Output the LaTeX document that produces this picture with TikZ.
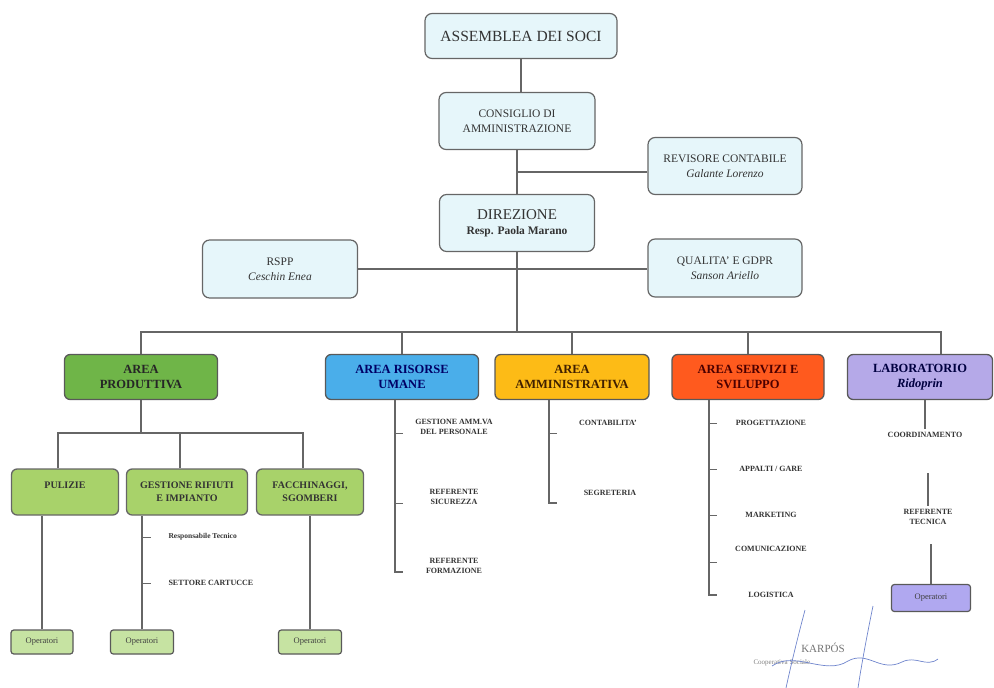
\documentclass[tikz,border=0pt]{standalone}
\usepackage{fontspec}
\setmainfont{Liberation Serif}
\usetikzlibrary{calc}

\definecolor{boxblue}{HTML}{E6F6FA}
\definecolor{prodgreen}{HTML}{6FB548}
\definecolor{subgreen}{HTML}{A8D26A}
\definecolor{opgreen}{HTML}{C6E3A2}
\definecolor{rublue}{HTML}{4AAEEA}
\definecolor{ammgold}{HTML}{FDBB16}
\definecolor{servred}{HTML}{FF5A1E}
\definecolor{lablav}{HTML}{B5A9E8}
\definecolor{oplav}{HTML}{B0A8F0}
\definecolor{linegray}{HTML}{666666}
\definecolor{siblue}{HTML}{6E84CC}

\tikzset{
  topbox/.style={draw=linegray, rectangle, rounded corners=2.5mm, fill=boxblue, line width=1.2pt,
    align=center, text=black!80, font=\fontsize{11.5}{15}\selectfont},
  areabox/.style={draw=black!65, rectangle, rounded corners=2mm, line width=1.3pt, align=center,
    minimum height=45, font=\bfseries\fontsize{12.5}{15}\selectfont},
  subbox/.style={draw=black!60, rectangle, rounded corners=2mm, fill=subgreen, line width=1.3pt,
    align=center, minimum height=46, text=black!80, font=\bfseries\fontsize{10}{13}\selectfont},
  opbox/.style={draw=black!65, rectangle, rounded corners=1mm, line width=1.2pt, minimum height=24,
    text=black!75, font=\fontsize{8.5}{9}\selectfont},
  item/.style={align=center, text=black!80, font=\bfseries\fontsize{8}{10}\selectfont},
  link/.style={draw=linegray, line width=1.3pt},
  sig/.style={draw=siblue, line width=0.7pt},
}

\begin{document}
\begin{tikzpicture}[x=1pt,y=-1pt]
\useasboundingbox (0,0) rectangle (994,688);

% vertice
\node[topbox, minimum width=192, minimum height=45, font=\fontsize{15.5}{17}\selectfont] (assemblea) at (521,36) {ASSEMBLEA DEI SOCI};
\node[topbox, minimum width=156, minimum height=57] (consiglio) at (517,121) {CONSIGLIO DI\\AMMINISTRAZIONE};
\node[topbox, minimum width=154, minimum height=57] (revisore) at (725,166) {REVISORE CONTABILE\\\textit{Galante Lorenzo}};
\node[topbox, minimum width=155, minimum height=57] (direzione) at (517,223) {{\fontsize{15}{17}\selectfont DIREZIONE}\\\textbf{Resp. Paola Marano}};
\node[topbox, minimum width=154, minimum height=58] (qualita) at (725,268) {QUALITA' E GDPR\\\textit{Sanson Ariello}};
\node[topbox, minimum width=155, minimum height=58] (rspp) at (280,269) {RSPP\\\textit{Ceschin Enea}};

\draw[link] (assemblea.south) -- (assemblea.south |- consiglio.north);
\draw[link] (consiglio) -- (direzione);
\draw[link] ($(revisore.west)+(0,6)$) -- ($(revisore.west -| consiglio.south)+(0,6)$);
\draw[link] (rspp.east) -- (rspp.east -| qualita.west);

% aree
\node[areabox, fill=prodgreen, minimum width=153, text=black!85] (prod) at (141,377) {AREA\\PRODUTTIVA};
\node[areabox, fill=rublue, minimum width=153, text=blue!40!black] (ru) at (402,377) {AREA RISORSE\\UMANE};
\node[areabox, fill=ammgold, minimum width=154, text=black!75!orange] (amm) at (572,377) {AREA\\AMMINISTRATIVA};
\node[areabox, fill=servred, minimum width=152, text=red!30!black] (serv) at (748,377) {AREA SERVIZI E\\SVILUPPO};
\node[areabox, fill=lablav, minimum width=145, text=blue!25!black] (lab) at (920,377) {LABORATORIO\\\textit{Ridoprin}};

\coordinate (bus) at (517,332);
\draw[link] (direzione.south) -- (bus);
\foreach \a in {prod,ru,amm,serv}
  \draw[link] (\a.north) |- (bus);
\draw[link] ($(lab.north)+(21,0)$) |- (bus);

% area produttiva
\node[subbox, minimum width=107] (pulizie) at (65,492) {PULIZIE\\\mbox{}};
\node[subbox, minimum width=121] (gestione) at (187,492) {GESTIONE RIFIUTI\\E IMPIANTO};
\node[subbox, minimum width=107] (facchinaggi) at (310,492) {FACCHINAGGI,\\SGOMBERI};

\coordinate (pbus) at (141,433);
\draw[link] (prod.south) -- (pbus);
\foreach \s in {pulizie,gestione,facchinaggi}
  \draw[link] ($(\s.north)+(-7,0)$) |- (pbus);

\node[opbox, fill=opgreen, minimum width=62] (op1) at (42,642) {Operatori};
\node[opbox, fill=opgreen, minimum width=63] (op2) at (142,642) {Operatori};
\node[opbox, fill=opgreen, minimum width=63] (op3) at (310,642) {Operatori};

\draw[link] (op1.north) -- (op1.north |- pulizie.south);
\draw[link] (op2.north) -- (op2.north |- gestione.south);
\draw[link] (op3.north) -- (op3.north |- facchinaggi.south);

\node[item, anchor=west, font=\bfseries\fontsize{7.5}{9}\selectfont] (resp) at (165,537) {Responsabile Tecnico};
\node[item, anchor=west] (cartucce) at (165,583) {SETTORE CARTUCCE};
\foreach \y in {537,583}
  \draw[link, line width=1pt] (142,\y) -- ++(9,0);

% risorse umane
\coordinate (ruend) at (395,572);
\draw[link] (ruend |- ru.south) -- (ruend) -- ++(8,0);
\foreach \y in {433,503}
  \draw[link, line width=1pt] (395,\y) -- ++(8,0);
\node[item] (personale) at (454,427) {GESTIONE AMM.VA\\DEL PERSONALE};
\node[item] (sicurezza) at (454,497) {REFERENTE\\SICUREZZA};
\node[item] (formazione) at (454,566) {REFERENTE\\FORMAZIONE};

% amministrativa
\coordinate (ammend) at (549,503);
\draw[link] (ammend |- amm.south) -- (ammend) -- ++(8,0);
\draw[link, line width=1pt] (549,433) -- ++(8,0);
\node[item] (contabilita) at (608,423) {CONTABILITA'};
\node[item] (segreteria) at (610,493) {SEGRETERIA};

% servizi e sviluppo
\coordinate (servend) at (709,595);
\draw[link] (servend |- serv.south) -- (servend) -- ++(8,0);
\foreach \y in {423,469,515,562}
  \draw[link, line width=1pt] (709,\y) -- ++(8,0);
\node[item] (progettazione) at (771,423) {PROGETTAZIONE};
\node[item] (appalti) at (771,469) {APPALTI / GARE};
\node[item] (marketing) at (771,515) {MARKETING};
\node[item] (comunicazione) at (771,549) {COMUNICAZIONE};
\node[item] (logistica) at (771,595) {LOGISTICA};

% laboratorio
\node[item] (coordinamento) at (925,435) {COORDINAMENTO};
\node[item] (referente) at (928,517) {REFERENTE\\TECNICA};
\node[opbox, fill=oplav, minimum width=79, minimum height=27] (oplab) at (931,598) {Operatori};
\draw[link] (coordinamento.north) -- (coordinamento.north |- lab.south);
\draw[link] (referente.north) -- ++(0,-33);
\draw[link] (oplab.north) -- ++(0,-40);

% timbro e firma
\node[text=black!55, font=\fontsize{11}{12}\selectfont] (karpos) at (823,648) {KARPÓS};
\node[anchor=west, text=black!50, font=\fontsize{7}{8}\selectfont] (coop) at (750,663) {Cooperativa Sociale};
\draw[sig] (805,610) .. controls (797,640) and (791,665) .. (786,688);
\draw[sig] (873,606) .. controls (866,640) and (861,668) .. (858,688);
\draw[sig] (772,666) .. controls (795,650) and (825,676) .. (848,661) .. controls (868,650) and (880,673) .. (902,662) .. controls (916,655) and (926,668) .. (938,659);

\end{tikzpicture}
\end{document}
